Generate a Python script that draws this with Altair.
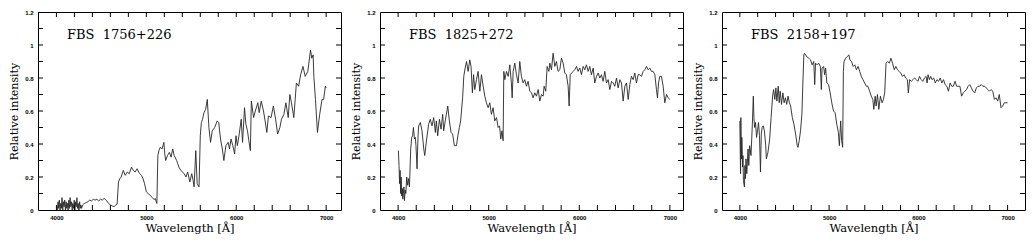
import altair as alt
import pandas as pd

# ---------------- data ----------------
names = ["FBS\u00a0\u00a01756+226", "FBS\u00a0\u00a01825+272", "FBS\u00a0\u00a02158+197"]

p1_wavelength = [
    4010, 4018, 4025, 4032, 4040, 4048, 4055, 4062, 4070, 4078,
    4085, 4092, 4100, 4108, 4115, 4122, 4130, 4138, 4145, 4152,
    4160, 4168, 4175, 4182, 4190, 4198, 4205, 4212, 4220, 4228,
    4235, 4242, 4250, 4258, 4265, 4272, 4280, 4290, 4300, 4315,
    4330, 4350, 4370, 4390, 4410, 4430, 4450, 4470, 4490, 4510,
    4530, 4545, 4560, 4580, 4600, 4620, 4640, 4660, 4675, 4690,
    4705, 4720, 4744, 4765, 4788, 4810, 4835, 4855, 4875, 4897,
    4915, 4927, 4945, 4963, 4980, 5000, 5020, 5040, 5066, 5085,
    5100, 5110, 5117, 5128, 5140, 5155, 5175, 5195, 5205, 5215,
    5235, 5257, 5275, 5293, 5310, 5337, 5350, 5366, 5385, 5400,
    5422, 5440, 5460, 5484, 5505, 5520, 5531, 5550, 5565, 5586,
    5600, 5612, 5625, 5641, 5660, 5678, 5696, 5714, 5733, 5760,
    5788, 5805, 5825, 5845, 5862, 5885, 5910, 5925, 5942, 5962,
    5982, 5997, 6012, 6033, 6055, 6070, 6092, 6107, 6125, 6140,
    6157, 6168, 6193, 6212, 6240, 6255, 6278, 6303, 6321, 6340,
    6358, 6387, 6413, 6438, 6460, 6485, 6503, 6530, 6552, 6578,
    6596, 6614, 6640, 6669, 6694, 6716, 6742, 6767, 6796, 6826,
    6840, 6855, 6863, 6881, 6903, 6928, 6954, 6972, 6991, 7000,
]
p1_intensity = [
    0.00, 0.05, 0.01, 0.06, 0.00, 0.04, 0.01, 0.075, 0.00, 0.05,
    0.02, 0.06, 0.00, 0.05, 0.01, 0.04, 0.00, 0.06, 0.01, 0.075,
    0.02, 0.05, 0.00, 0.04, 0.01, 0.06, 0.00, 0.05, 0.02, 0.075,
    0.01, 0.04, 0.00, 0.05, 0.01, 0.03, 0.01, 0.03, 0.035, 0.04,
    0.045, 0.05, 0.06, 0.055, 0.065, 0.06, 0.065, 0.055, 0.065, 0.06,
    0.07, 0.065, 0.055, 0.04, 0.03, 0.025, 0.02, 0.03, 0.035, 0.17,
    0.19, 0.20, 0.24, 0.21, 0.23, 0.22, 0.26, 0.24, 0.23, 0.25,
    0.23, 0.22, 0.21, 0.19, 0.16, 0.11, 0.10, 0.09, 0.076, 0.063,
    0.07, 0.05, 0.04, 0.33, 0.36, 0.38, 0.37, 0.41, 0.34, 0.30,
    0.33, 0.35, 0.32, 0.37, 0.33, 0.30, 0.28, 0.255, 0.24, 0.23,
    0.22, 0.20, 0.23, 0.17, 0.22, 0.18, 0.14, 0.36, 0.16, 0.14,
    0.45, 0.53, 0.55, 0.59, 0.61, 0.67, 0.50, 0.41, 0.48, 0.50,
    0.54, 0.53, 0.43, 0.37, 0.30, 0.39, 0.41, 0.37, 0.43, 0.39,
    0.34, 0.45, 0.39, 0.46, 0.55, 0.41, 0.62, 0.52, 0.48, 0.42,
    0.36, 0.66, 0.56, 0.60, 0.65, 0.59, 0.66, 0.60, 0.54, 0.47,
    0.57, 0.56, 0.63, 0.55, 0.46, 0.50, 0.55, 0.58, 0.65, 0.56,
    0.70, 0.65, 0.56, 0.77, 0.75, 0.82, 0.87, 0.81, 0.84, 0.97,
    0.92, 0.94, 0.81, 0.67, 0.47, 0.58, 0.67, 0.67, 0.75, 0.74,
]

p2_wavelength = [
    4003, 4010, 4016, 4022, 4028, 4034, 4040, 4046, 4052, 4058,
    4064, 4070, 4077, 4085, 4095, 4105, 4115, 4125, 4139, 4150,
    4160, 4169, 4180, 4190, 4197, 4209, 4220, 4227, 4245, 4264,
    4283, 4294, 4315, 4337, 4355, 4374, 4393, 4411, 4422, 4437,
    4456, 4474, 4492, 4503, 4520, 4548, 4566, 4584, 4602, 4621,
    4644, 4660, 4676, 4690, 4712, 4725, 4740, 4755, 4773, 4791,
    4805, 4820, 4833, 4846, 4865, 4883, 4902, 4920, 4939, 4957,
    4975, 4994, 5012, 5030, 5049, 5067, 5086, 5104, 5120, 5133,
    5146, 5159, 5167, 5178, 5196, 5215, 5233, 5250, 5259, 5270,
    5288, 5306, 5325, 5343, 5361, 5380, 5398, 5417, 5435, 5454,
    5472, 5490, 5509, 5527, 5546, 5564, 5583, 5601, 5612, 5630,
    5645, 5664, 5675, 5693, 5711, 5730, 5748, 5766, 5785, 5803,
    5822, 5840, 5858, 5877, 5888, 5900, 5932, 5950, 5969, 5987,
    6006, 6024, 6043, 6061, 6079, 6098, 6116, 6134, 6153, 6171,
    6190, 6208, 6227, 6245, 6263, 6282, 6300, 6319, 6337, 6356,
    6374, 6392, 6411, 6429, 6448, 6466, 6484, 6503, 6521, 6540,
    6558, 6576, 6595, 6613, 6631, 6650, 6668, 6687, 6705, 6723,
    6742, 6760, 6779, 6797, 6815, 6834, 6852, 6863, 6875, 6889,
    6907, 6926, 6944, 6963, 6981, 7000,
]
p2_intensity = [
    0.36, 0.27, 0.16, 0.24, 0.10, 0.20, 0.085, 0.13, 0.066, 0.10,
    0.14, 0.057, 0.12, 0.10, 0.20, 0.15, 0.19, 0.14, 0.37, 0.44,
    0.45, 0.50, 0.43, 0.44, 0.39, 0.25, 0.45, 0.51, 0.53, 0.48,
    0.37, 0.33, 0.43, 0.52, 0.55, 0.51, 0.56, 0.47, 0.54, 0.45,
    0.55, 0.49, 0.58, 0.48, 0.54, 0.63, 0.54, 0.47, 0.46, 0.39,
    0.39, 0.45, 0.50, 0.54, 0.68, 0.81, 0.86, 0.90, 0.84, 0.91,
    0.87, 0.71, 0.82, 0.73, 0.79, 0.84, 0.72, 0.82, 0.75, 0.69,
    0.65, 0.62, 0.65, 0.58, 0.62, 0.54, 0.56, 0.50, 0.51, 0.43,
    0.48, 0.42, 0.84, 0.79, 0.84, 0.81, 0.88, 0.77, 0.68, 0.84,
    0.89, 0.82, 0.77, 0.90, 0.81, 0.77, 0.79, 0.75, 0.78, 0.72,
    0.71, 0.68, 0.71, 0.69, 0.73, 0.66, 0.70, 0.69, 0.75, 0.72,
    0.87, 0.84, 0.89, 0.85, 0.95, 0.87, 0.90, 0.84, 0.85, 0.92,
    0.89, 0.83, 0.82, 0.75, 0.63, 0.82, 0.84, 0.85, 0.87, 0.84,
    0.86, 0.82, 0.87, 0.85, 0.88, 0.84, 0.87, 0.82, 0.86, 0.77,
    0.81, 0.83, 0.80, 0.82, 0.78, 0.84, 0.77, 0.79, 0.73, 0.78,
    0.77, 0.75, 0.80, 0.74, 0.79, 0.77, 0.66, 0.75, 0.77, 0.67,
    0.76, 0.81, 0.79, 0.83, 0.77, 0.82, 0.82, 0.81, 0.84, 0.85,
    0.87, 0.85, 0.86, 0.84, 0.84, 0.82, 0.73, 0.68, 0.77, 0.81,
    0.81, 0.75, 0.65, 0.70, 0.68, 0.67,
]

p3_wavelength = [
    4000, 4005, 4008, 4011, 4015, 4019, 4022, 4026, 4030, 4035,
    4040, 4051, 4057, 4063, 4069, 4078, 4092, 4100, 4110, 4125,
    4140, 4151, 4158, 4165, 4176, 4187, 4198, 4209, 4220, 4231,
    4240, 4250, 4262, 4275, 4290, 4297, 4315, 4334, 4350, 4367,
    4378, 4392, 4404, 4415, 4430, 4441, 4452, 4467, 4482, 4496,
    4511, 4525, 4540, 4555, 4569, 4588, 4606, 4625, 4643, 4652,
    4665, 4680, 4695, 4705, 4717, 4725, 4749, 4773, 4792, 4810,
    4828, 4839, 4848, 4865, 4883, 4902, 4913, 4921, 4939, 4950,
    4961, 4975, 4994, 5012, 5030, 5049, 5067, 5086, 5104, 5115,
    5130, 5140, 5152, 5160, 5167, 5185, 5203, 5222, 5233, 5251,
    5270, 5288, 5306, 5325, 5343, 5361, 5380, 5398, 5417, 5435,
    5454, 5472, 5490, 5501, 5516, 5527, 5542, 5557, 5575, 5594,
    5609, 5623, 5638, 5656, 5675, 5693, 5711, 5730, 5748, 5766,
    5785, 5803, 5822, 5840, 5858, 5877, 5888, 5902, 5921, 5940,
    5958, 5977, 5995, 6013, 6032, 6050, 6068, 6087, 6098, 6109,
    6124, 6138, 6153, 6172, 6190, 6208, 6227, 6245, 6263, 6282,
    6300, 6319, 6337, 6356, 6374, 6392, 6411, 6429, 6448, 6466,
    6484, 6503, 6521, 6540, 6558, 6576, 6595, 6613, 6632, 6650,
    6668, 6687, 6705, 6723, 6742, 6760, 6779, 6797, 6815, 6834,
    6852, 6870, 6889, 6907, 6926, 6944, 6963, 6981, 7000,
]
p3_intensity = [
    0.54, 0.33, 0.22, 0.56, 0.39, 0.31, 0.44, 0.37, 0.26, 0.33,
    0.18, 0.14, 0.27, 0.19, 0.31, 0.22, 0.37, 0.27, 0.39, 0.33,
    0.52, 0.69, 0.56, 0.50, 0.53, 0.44, 0.48, 0.53, 0.45, 0.23,
    0.46, 0.50, 0.51, 0.48, 0.39, 0.31, 0.35, 0.43, 0.56, 0.69,
    0.73, 0.67, 0.74, 0.66, 0.75, 0.65, 0.72, 0.64, 0.71, 0.65,
    0.68, 0.64, 0.69, 0.65, 0.63, 0.56, 0.52, 0.46, 0.39, 0.38,
    0.42, 0.48, 0.58, 0.75, 0.94, 0.95, 0.93, 0.92, 0.91, 0.88,
    0.90, 0.76, 0.89, 0.88, 0.89, 0.87, 0.73, 0.86, 0.87, 0.82,
    0.86, 0.77, 0.76, 0.71, 0.65, 0.60, 0.59, 0.52, 0.47, 0.39,
    0.54, 0.42, 0.38, 0.84, 0.90, 0.92, 0.93, 0.94, 0.91, 0.90,
    0.87, 0.88, 0.85, 0.87, 0.84, 0.81, 0.79, 0.77, 0.75, 0.75,
    0.72, 0.69, 0.67, 0.61, 0.69, 0.63, 0.70, 0.61, 0.69, 0.65,
    0.67, 0.71, 0.89, 0.90, 0.89, 0.92, 0.89, 0.85, 0.87, 0.85,
    0.84, 0.83, 0.81, 0.82, 0.80, 0.79, 0.71, 0.79, 0.78, 0.79,
    0.80, 0.79, 0.78, 0.81, 0.79, 0.78, 0.80, 0.81, 0.77, 0.82,
    0.79, 0.81, 0.79, 0.80, 0.77, 0.79, 0.78, 0.80, 0.77, 0.79,
    0.76, 0.75, 0.72, 0.77, 0.75, 0.75, 0.78, 0.75, 0.75, 0.75,
    0.69, 0.71, 0.72, 0.73, 0.75, 0.76, 0.74, 0.72, 0.71, 0.74,
    0.75, 0.75, 0.76, 0.75, 0.75, 0.74, 0.73, 0.72, 0.73, 0.72,
    0.67, 0.68, 0.66, 0.70, 0.62, 0.63, 0.65, 0.65, 0.65,
]

x_major = [4000, 5000, 6000, 7000]
x_ticks = [3800, 4000, 4200, 4400, 4600, 4800, 5000, 5200, 5400, 5600,
           5800, 6000, 6200, 6400, 6600, 6800, 7000]
y_major = [0, 0.2, 0.4, 0.6, 0.8, 1.0, 1.2]
y_ticks = [0.1, 0.2, 0.3, 0.4, 0.5, 0.6, 0.7, 0.8, 0.9, 1.0, 1.1]

# ---------------- layout / style ----------------
H = 198
x_domains = [[3795, 7165], [3800, 7145], [3800, 7195]]
widths = [303, 303, 303]
TICK = 5
LINE_COLOR = "#262626"


def panel(wl, flux, name, xdom, W):
    df = pd.DataFrame({"wl": wl, "flux": flux})
    xs = alt.Scale(domain=xdom, nice=False, zero=False)
    ys = alt.Scale(domain=[0, 1.2], nice=False, zero=False)
    xt = pd.DataFrame({"wl": [v for v in x_ticks if xdom[0] < v < xdom[1]]})
    yt = pd.DataFrame({"flux": y_ticks})

    x_axis = alt.Axis(title="Wavelength [Å]", values=x_major, format="d", tickSize=0,
                      domain=False, grid=False, labelPadding=4, titlePadding=2)
    y_axis = alt.Axis(title="Relative intensity", values=y_major, format="~g", tickSize=0,
                      domain=False, grid=False, labelPadding=5, titlePadding=5)

    line = alt.Chart(df).mark_line(color=LINE_COLOR, strokeWidth=0.9).encode(
        x=alt.X("wl:Q", scale=xs, axis=x_axis),
        y=alt.Y("flux:Q", scale=ys, axis=y_axis),
    )

    rule = dict(color="black", strokeWidth=1)
    xenc = alt.X("wl:Q", scale=xs, axis=x_axis)
    yenc = alt.Y("flux:Q", scale=ys, axis=y_axis)
    tick_bottom = alt.Chart(xt).mark_rule(**rule).encode(
        x=xenc, y=alt.value(H), y2=alt.value(H - TICK))
    tick_top = alt.Chart(xt).mark_rule(**rule).encode(
        x=xenc, y=alt.value(0), y2=alt.value(TICK))
    tick_left = alt.Chart(yt).mark_rule(**rule).encode(
        y=yenc, x=alt.value(0), x2=alt.value(TICK))
    tick_right = alt.Chart(yt).mark_rule(**rule).encode(
        y=yenc, x=alt.value(W), x2=alt.value(W - TICK))

    label = alt.Chart(pd.DataFrame({"name": [name]})).mark_text(
        align="left", baseline="alphabetic", font="DejaVu Serif", fontSize=13,
        color="black",
    ).encode(x=alt.value(29), y=alt.value(27), text="name:N")

    return alt.layer(line, tick_bottom, tick_top, tick_left, tick_right, label).properties(
        width=W, height=H,
    )


panels = [
    panel(p1_wavelength, p1_intensity, names[0], x_domains[0], widths[0]),
    panel(p2_wavelength, p2_intensity, names[1], x_domains[1], widths[1]),
    panel(p3_wavelength, p3_intensity, names[2], x_domains[2], widths[2]),
]

chart = alt.hconcat(*panels, spacing=8).properties(
    padding=0, background="white"
).configure_view(
    stroke="black", strokeWidth=1
).configure_axis(
    labelFont="Liberation Sans", labelFontWeight="bold", labelFontSize=6,
    labelColor="black", titleFont="DejaVu Serif", titleFontWeight="normal",
    titleColor="black",
).configure_axisX(
    titleFontSize=11.5
).configure_axisY(
    titleFontSize=11
)

chart.save("out.html", embed_options={"renderer": "svg", "actions": False})
